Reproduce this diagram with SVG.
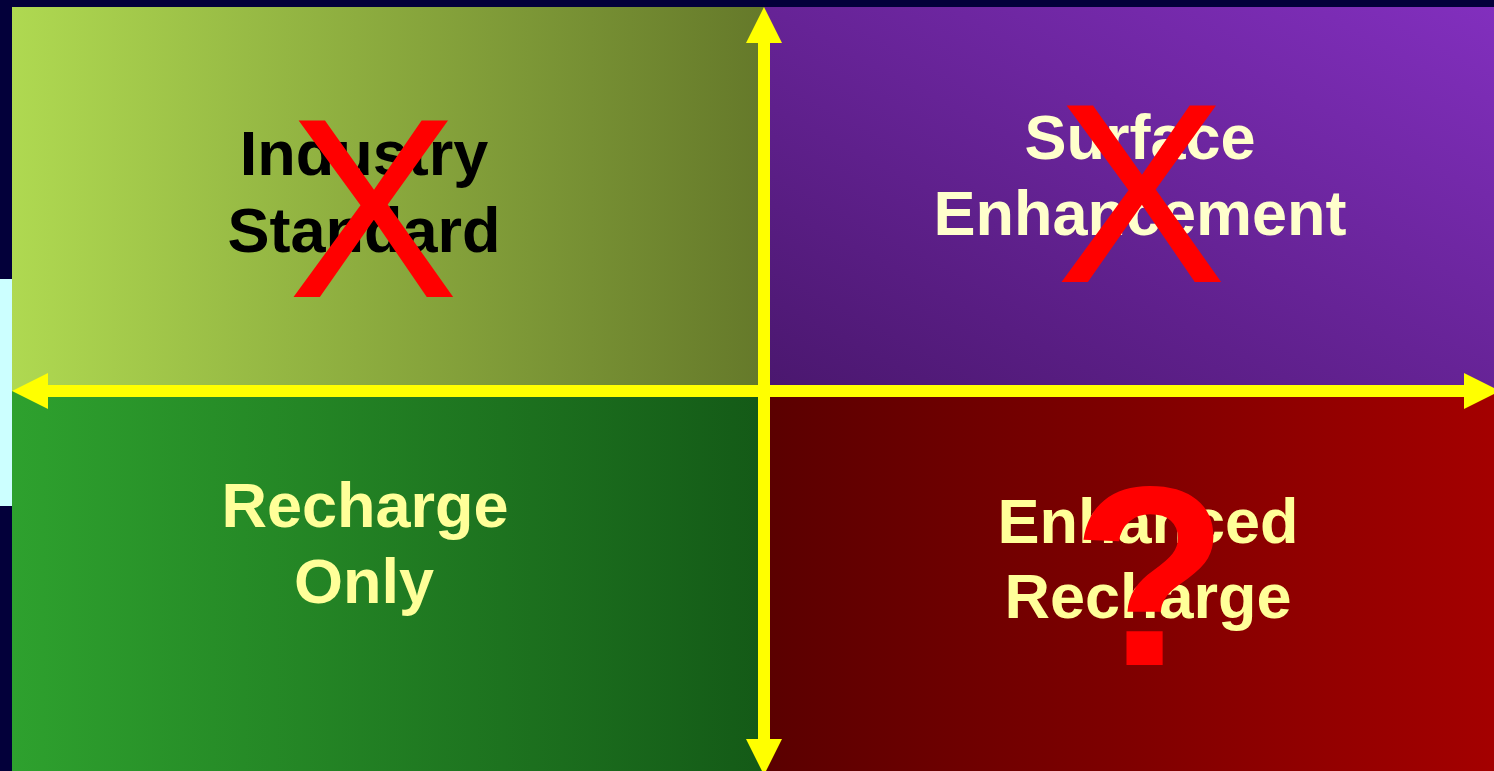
<svg xmlns="http://www.w3.org/2000/svg" width="1494" height="771" viewBox="0 0 1494 771">
<style>
.lbl{font-family:"Liberation Sans",Arial,sans-serif;font-weight:bold;font-size:63px;text-anchor:middle}
.mark{font-family:"Liberation Sans",Arial,sans-serif;font-size:256px;fill:#ff0000;text-anchor:middle}
.axis{fill:#ffff00}
</style>
<defs>
<linearGradient id="gTL" x1="0" y1="0" x2="1" y2="0"><stop offset="0" stop-color="#afd951"/><stop offset="1" stop-color="#65792a"/></linearGradient>
<linearGradient id="gTR" x1="0" y1="1" x2="1" y2="0"><stop offset="0" stop-color="#4a176e"/><stop offset="1" stop-color="#822fbe"/></linearGradient>
<linearGradient id="gBL" x1="0" y1="0" x2="1" y2="0"><stop offset="0" stop-color="#2ea12e"/><stop offset="1" stop-color="#145a17"/></linearGradient>
<linearGradient id="gBR" x1="0" y1="0" x2="1" y2="0"><stop offset="0" stop-color="#5a0000"/><stop offset="1" stop-color="#a40000"/></linearGradient>
</defs>
<rect x="0" y="0" width="1494" height="771" fill="#03003a"/>
<rect x="0" y="279" width="12" height="227" fill="#ccffff"/>
<g id="industry-standard">
<rect x="12" y="7" width="752" height="384" fill="url(#gTL)"/>
<text class="lbl" x="364" y="175" fill="#000000">Industry</text>
<text class="lbl" x="364" y="252" fill="#000000">Standard</text>
<text class="mark" x="373" y="297">X</text>
</g>
<g id="surface-enhancement">
<rect x="764" y="7" width="730" height="384" fill="url(#gTR)"/>
<text class="lbl" x="1140" y="159" fill="#ffffcc">Surface</text>
<text class="lbl" x="1140" y="235" fill="#ffffcc">Enhancement</text>
<text class="mark" x="1141" y="282">X</text>
</g>
<g id="recharge-only">
<rect x="12" y="391" width="752" height="380" fill="url(#gBL)"/>
<text class="lbl" x="365" y="527" fill="#ffff99">Recharge</text>
<text class="lbl" x="364" y="603" fill="#ffff99">Only</text>
</g>
<g id="enhanced-recharge">
<rect x="764" y="391" width="730" height="380" fill="url(#gBR)"/>
<text class="lbl" x="1148" y="543" fill="#ffff99">Enhanced</text>
<text class="lbl" x="1148" y="618" fill="#ffff99">Recharge</text>
<text class="mark" x="1150" y="665" font-weight="bold">?</text>
</g>
<g id="connectors">
<rect class="axis" x="48" y="385" width="1416" height="12"/>
<polygon class="axis" points="12,391 48,373 48,409"/>
<polygon class="axis" points="1500,391 1464,373 1464,409"/>
<rect class="axis" x="758" y="43" width="12" height="696"/>
<polygon class="axis" points="764,7 746,43 782,43"/>
<polygon class="axis" points="764,775 746,739 782,739"/>
</g>
</svg>
